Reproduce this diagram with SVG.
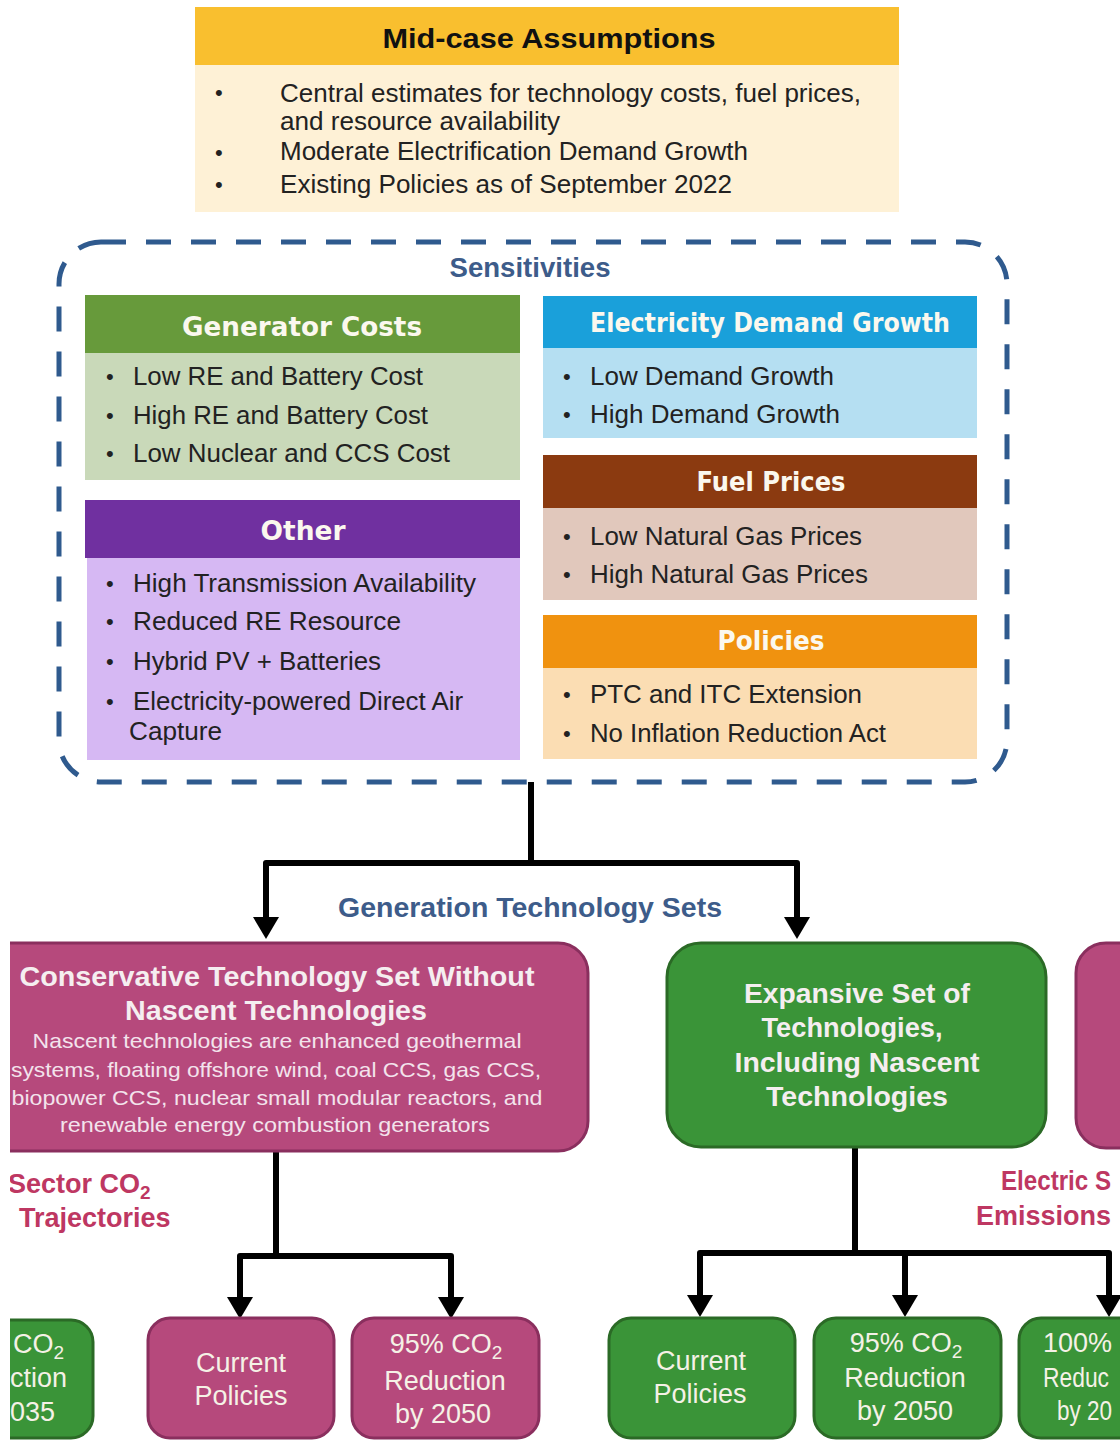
<svg xmlns="http://www.w3.org/2000/svg" width="1120" height="1441" viewBox="0 0 1120 1441">
<style>
.bt{font-family:"Liberation Sans",Arial,sans-serif;font-size:25px;fill:#222;}
.hd{font-family:"DejaVu Sans",Verdana,sans-serif;font-weight:bold;font-size:26px;fill:#FBF8EE;text-anchor:middle;}
.bl{font-family:"Liberation Sans",Arial,sans-serif;font-size:22px;fill:#222;}
.blue{font-family:"Liberation Sans",Arial,sans-serif;font-weight:bold;font-size:27px;fill:#3D5C8A;text-anchor:middle;}
.big{font-family:"Liberation Sans",Arial,sans-serif;font-weight:bold;font-size:27px;fill:#F5EEF0;text-anchor:middle;}
.small{font-family:"Liberation Sans",Arial,sans-serif;font-size:21px;fill:#F3E3EC;text-anchor:middle;}
.leaf{font-family:"Liberation Sans",Arial,sans-serif;font-size:27px;fill:#F5F1E6;text-anchor:middle;}
.leafL{font-family:"Liberation Sans",Arial,sans-serif;font-size:27px;fill:#F5F1E6;}
.red{font-family:"Liberation Sans",Arial,sans-serif;font-weight:bold;font-size:27px;fill:#BE3762;}
.pink{fill:#B6497C;stroke:#8A2F5E;stroke-width:3;}
.green{fill:#3A9438;stroke:#2B6A26;stroke-width:3;}
.conn{fill:none;stroke:#000;stroke-width:6;stroke-linejoin:round;}
</style>
<defs>
<marker id="ah" markerUnits="userSpaceOnUse" markerWidth="24" markerHeight="28" refX="6" refY="13" orient="auto">
<path d="M0 0 L22 13 L0 26 Z" fill="#000"/>
</marker>
<clipPath id="clipL"><rect x="10" y="0" width="1110" height="1441"/></clipPath>
</defs>
<rect width="1120" height="1441" fill="#fff"/>

<g id="midcase">
<rect x="195" y="7" width="704" height="58" fill="#F9BF2F"/>
<rect x="195" y="65" width="704" height="147" fill="#FEF1D6"/>
<text x="549" y="48" font-family="Liberation Sans, Arial, sans-serif" font-weight="bold" font-size="27" fill="#111" text-anchor="middle" textLength="333" lengthAdjust="spacingAndGlyphs">Mid-case Assumptions</text>
<text class="bl" x="215" y="100">•</text>
<text class="bl" x="215" y="160">•</text>
<text class="bl" x="215" y="192">•</text>
<text class="bt" x="280" y="102" textLength="581" lengthAdjust="spacingAndGlyphs">Central estimates for technology costs, fuel prices,</text>
<text class="bt" x="280" y="130" textLength="280" lengthAdjust="spacingAndGlyphs">and resource availability</text>
<text class="bt" x="280" y="160" textLength="468" lengthAdjust="spacingAndGlyphs">Moderate Electrification Demand Growth</text>
<text class="bt" x="280" y="193" textLength="452" lengthAdjust="spacingAndGlyphs">Existing Policies as of September 2022</text>
</g>

<g id="sensitivities">
<rect x="59" y="242" width="948" height="540" rx="42" fill="none" stroke="#2F5A8E" stroke-width="5" stroke-dasharray="25 20"/>
<text class="blue" x="530" y="277" font-size="25" textLength="161" lengthAdjust="spacingAndGlyphs">Sensitivities</text>
</g>

<g id="generator-costs">
<rect x="85" y="295" width="435" height="58" fill="#679A3B"/>
<rect x="85" y="353" width="435" height="127" fill="#C9D9B9"/>
<text class="hd" x="302" y="336" textLength="240" lengthAdjust="spacingAndGlyphs">Generator Costs</text>
<text class="bl" x="106" y="384">•</text>
<text class="bl" x="106" y="423">•</text>
<text class="bl" x="106" y="461">•</text>
<text class="bt" x="133" y="385" textLength="290" lengthAdjust="spacingAndGlyphs">Low RE and Battery Cost</text>
<text class="bt" x="133" y="424" textLength="295" lengthAdjust="spacingAndGlyphs">High RE and Battery Cost</text>
<text class="bt" x="133" y="462" textLength="317" lengthAdjust="spacingAndGlyphs">Low Nuclear and CCS Cost</text>
</g>

<g id="other">
<rect x="85" y="500" width="435" height="58" fill="#7030A0"/>
<rect x="87" y="558" width="433" height="202" fill="#D6B8F3"/>
<text class="hd" x="303" y="540" textLength="85" lengthAdjust="spacingAndGlyphs">Other</text>
<text class="bl" x="106" y="591">•</text>
<text class="bl" x="106" y="629">•</text>
<text class="bl" x="106" y="669">•</text>
<text class="bl" x="106" y="709">•</text>
<text class="bt" x="133" y="592" textLength="343" lengthAdjust="spacingAndGlyphs">High Transmission Availability</text>
<text class="bt" x="133" y="630" textLength="268" lengthAdjust="spacingAndGlyphs">Reduced RE Resource</text>
<text class="bt" x="133" y="670" textLength="248" lengthAdjust="spacingAndGlyphs">Hybrid PV  + Batteries</text>
<text class="bt" x="133" y="710" textLength="330" lengthAdjust="spacingAndGlyphs">Electricity-powered Direct Air</text>
<text class="bt" x="129" y="740" textLength="93" lengthAdjust="spacingAndGlyphs">Capture</text>
</g>

<g id="electricity-demand">
<rect x="543" y="296" width="434" height="52" fill="#1AA0DA"/>
<rect x="543" y="348" width="434" height="90" fill="#B5DFF2"/>
<text class="hd" x="770" y="332" textLength="360" lengthAdjust="spacingAndGlyphs">Electricity  Demand Growth</text>
<text class="bl" x="563" y="384">•</text>
<text class="bl" x="563" y="422">•</text>
<text class="bt" x="590" y="385" textLength="244" lengthAdjust="spacingAndGlyphs">Low Demand Growth</text>
<text class="bt" x="590" y="423" textLength="250" lengthAdjust="spacingAndGlyphs">High Demand Growth</text>
</g>

<g id="fuel-prices">
<rect x="543" y="455" width="434" height="53" fill="#8B3A10"/>
<rect x="543" y="508" width="434" height="92" fill="#E1C8BC"/>
<text class="hd" x="771" y="491" textLength="149" lengthAdjust="spacingAndGlyphs">Fuel Prices</text>
<text class="bl" x="563" y="544">•</text>
<text class="bl" x="563" y="582">•</text>
<text class="bt" x="590" y="545" textLength="272" lengthAdjust="spacingAndGlyphs">Low Natural Gas Prices</text>
<text class="bt" x="590" y="583" textLength="278" lengthAdjust="spacingAndGlyphs">High Natural Gas Prices</text>
</g>

<g id="policies">
<rect x="543" y="615" width="434" height="53" fill="#F0920F"/>
<rect x="543" y="668" width="434" height="91" fill="#FBDDB3"/>
<text class="hd" x="771" y="650" textLength="107" lengthAdjust="spacingAndGlyphs">Policies</text>
<text class="bl" x="563" y="702">•</text>
<text class="bl" x="563" y="741">•</text>
<text class="bt" x="590" y="703" textLength="272" lengthAdjust="spacingAndGlyphs">PTC and ITC Extension</text>
<text class="bt" x="590" y="742" textLength="296" lengthAdjust="spacingAndGlyphs">No Inflation Reduction Act</text>
</g>

<g id="connectors">
<path class="conn" d="M531 782 V863"/>
<path class="conn" d="M531 863 H266 V923" marker-end="url(#ah)"/>
<path class="conn" d="M531 863 H797 V923" marker-end="url(#ah)"/>
<path class="conn" d="M276 1152 V1256"/>
<path class="conn" d="M276 1256 H240 V1303" marker-end="url(#ah)"/>
<path class="conn" d="M276 1256 H451 V1303" marker-end="url(#ah)"/>
<path class="conn" d="M855 1148 V1253"/>
<path class="conn" d="M855 1253 H700 V1301" marker-end="url(#ah)"/>
<path class="conn" d="M855 1253 H905 V1301" marker-end="url(#ah)"/>
<path class="conn" d="M855 1253 H1109 V1301" marker-end="url(#ah)"/>
</g>

<g id="gen-tech-label">
<text class="blue" x="530" y="917" textLength="384" lengthAdjust="spacingAndGlyphs">Generation Technology Sets</text>
</g>

<g id="conservative" clip-path="url(#clipL)">
<rect class="pink" x="-30" y="943" width="618" height="208" rx="30"/>
<text class="big" x="277" y="986" textLength="515" lengthAdjust="spacingAndGlyphs">Conservative  Technology  Set Without</text>
<text class="big" x="276" y="1020" textLength="302" lengthAdjust="spacingAndGlyphs">Nascent  Technologies</text>
<text class="small" x="277" y="1048" textLength="489" lengthAdjust="spacingAndGlyphs">Nascent technologies are enhanced geothermal</text>
<text class="small" x="276" y="1077" textLength="530" lengthAdjust="spacingAndGlyphs">systems, floating offshore wind, coal CCS,  gas CCS,</text>
<text class="small" x="277" y="1105" textLength="531" lengthAdjust="spacingAndGlyphs">biopower CCS, nuclear small modular  reactors, and</text>
<text class="small" x="275" y="1132" textLength="430" lengthAdjust="spacingAndGlyphs">renewable energy combustion generators</text>
</g>

<g id="expansive">
<rect class="green" x="667" y="943" width="379" height="204" rx="34"/>
<text class="big" x="857" y="1003" textLength="226" lengthAdjust="spacingAndGlyphs">Expansive  Set of</text>
<text class="big" x="852" y="1037" textLength="181" lengthAdjust="spacingAndGlyphs">Technologies,</text>
<text class="big" x="857" y="1072" textLength="245" lengthAdjust="spacingAndGlyphs">Including Nascent</text>
<text class="big" x="857" y="1106" textLength="182" lengthAdjust="spacingAndGlyphs">Technologies</text>
</g>

<g id="right-pink-set">
<rect class="pink" x="1076" y="943" width="120" height="205" rx="30"/>
</g>

<g id="label-left" clip-path="url(#clipL)">
<text class="red" x="8" y="1193">Sector CO<tspan font-size="19" dy="6">2</tspan></text>
<text class="red" x="19" y="1227">Trajectories</text>
</g>
<g id="label-right">
<text class="red" x="1001" y="1190" textLength="110" lengthAdjust="spacingAndGlyphs">Electric S</text>
<text class="red" x="976" y="1225">Emissions</text>
</g>

<g id="left-green-leaf" clip-path="url(#clipL)">
<rect class="green" x="-40" y="1320" width="133" height="118" rx="22"/>
<text class="leafL" x="13" y="1353">CO<tspan font-size="19" dy="6">2</tspan></text>
<text class="leafL" x="10" y="1387">ction</text>
<text class="leafL" x="10" y="1421">035</text>
</g>

<g id="pink-current">
<rect class="pink" x="148" y="1318" width="186" height="120" rx="22"/>
<text class="leaf" x="241" y="1372">Current</text>
<text class="leaf" x="241" y="1405">Policies</text>
</g>
<g id="pink-95">
<rect class="pink" x="352" y="1318" width="187" height="120" rx="22"/>
<text class="leaf" x="446" y="1353">95% CO<tspan font-size="19" dy="6">2</tspan></text>
<text class="leaf" x="445" y="1390">Reduction</text>
<text class="leaf" x="443" y="1423">by 2050</text>
</g>

<g id="green-current">
<rect class="green" x="609" y="1318" width="186" height="120" rx="22"/>
<text class="leaf" x="701" y="1370">Current</text>
<text class="leaf" x="700" y="1403">Policies</text>
</g>
<g id="green-95">
<rect class="green" x="814" y="1318" width="187" height="120" rx="22"/>
<text class="leaf" x="906" y="1352">95% CO<tspan font-size="19" dy="6">2</tspan></text>
<text class="leaf" x="905" y="1387">Reduction</text>
<text class="leaf" x="905" y="1420">by 2050</text>
</g>
<g id="green-100">
<rect class="green" x="1019" y="1318" width="187" height="120" rx="22"/>
<text class="leafL" x="1043" y="1352">100%</text>
<text class="leafL" x="1043" y="1387" textLength="66" lengthAdjust="spacingAndGlyphs">Reduc</text>
<text class="leafL" x="1057" y="1420" textLength="55" lengthAdjust="spacingAndGlyphs">by 20</text>
</g>
</svg>
